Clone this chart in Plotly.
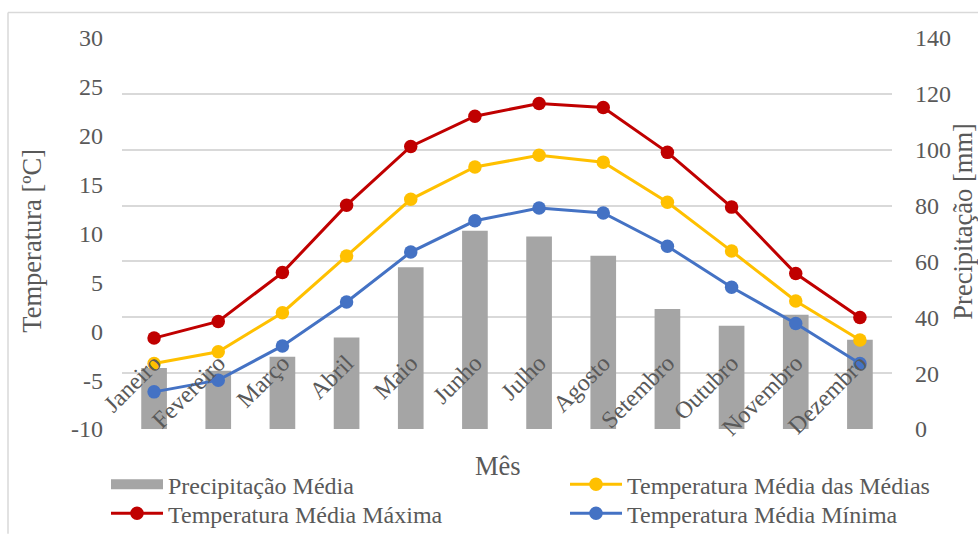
import plotly.graph_objects as go

# Monthly climate normals
meses = ["Janeiro", "Fevereiro", "Março", "Abril", "Maio", "Junho",
         "Julho", "Agosto", "Setembro", "Outubro", "Novembro", "Dezembro"]
precipitacao = [21.8, 20.9, 25.9, 32.8, 57.9, 71.0, 68.9, 62.0, 43.0, 37.0, 40.9, 32.0]
temp_media = [-3.3, -2.1, 1.9, 7.7, 13.5, 16.8, 18.0, 17.3, 13.2, 8.2, 3.1, -0.9]
temp_maxima = [-0.7, 1.0, 6.0, 12.9, 18.9, 22.0, 23.3, 22.9, 18.3, 12.7, 5.9, 1.4]
temp_minima = [-6.2, -5.0, -1.5, 3.0, 8.1, 11.3, 12.6, 12.1, 8.7, 4.5, 0.8, -3.3]

# Temperature axis ticks (plain hyphen for negatives)
temp_ticks = [-10, -5, 0, 5, 10, 15, 20, 25, 30]
temp_tick_text = ["-10", "-5", "0", "5", "10", "15", "20", "25", "30"]

FONT = "Liberation Serif"
TXT = "#595959"
GRID = "#d9d9d9"
BAR = "#a5a5a5"
TICK_SIZE = 24
TITLE_SIZE = 26.5

# plot area in pixels
L, R, T, B = 122, 892, 38.4, 429.3
W, H = R - L, B - T


def px(x):
    return (x - L) / W


def py(y):
    return (B - y) / H


fig = go.Figure()

# Precipitation bars on the primary (right-hand) axis so the lines sit on top
fig.add_trace(go.Bar(
    x=meses, y=precipitacao, name="Precipitação Média",
    marker=dict(color=BAR, line=dict(width=0)),
    width=0.4, yaxis="y", xaxis="x", showlegend=False,
))
# wide rectangular key for the bar series
fig.add_trace(go.Scatter(
    x=[None], y=[None], name="Precipitação Média", mode="lines",
    line=dict(color=BAR, width=12), yaxis="y", xaxis="x", legend="legend",
    hoverinfo="skip",
))


def linha(valores, nome, cor, leg):
    return go.Scatter(
        x=meses, y=valores, name=nome, mode="lines+markers",
        line=dict(color=cor, width=3),
        marker=dict(color=cor, size=13.5),
        yaxis="y2", xaxis="x", legend=leg,
    )


fig.add_trace(linha(temp_media, "Temperatura Média das Médias", "#ffc000", "legend2"))
fig.add_trace(linha(temp_maxima, "Temperatura Média Máxima", "#c00000", "legend3"))
fig.add_trace(linha(temp_minima, "Temperatura Média Mínima", "#4472c4", "legend4"))

legend_style = dict(
    orientation="v", yanchor="middle", xanchor="left",
    font=dict(family=FONT, size=TICK_SIZE, color=TXT),
    bgcolor="rgba(0,0,0,0)", tracegroupgap=0, itemwidth=52,
)
col1, col2 = 106, 565
row1, row2 = 485, 514

fig.update_layout(
    width=978, height=534,
    margin=dict(l=L, r=978 - R, t=T, b=534 - B, autoexpand=False),
    paper_bgcolor="white", plot_bgcolor="white",
    font=dict(family=FONT, color=TXT, size=TICK_SIZE),
    showlegend=True,
    xaxis=dict(
        anchor="free", position=0.25,
        tickangle=-45, showgrid=False, showline=False, ticks="",
        tickfont=dict(family=FONT, size=TICK_SIZE, color=TXT),
        ticklabelstandoff=12,
        range=[-0.5, 11.5], fixedrange=True,
    ),
    yaxis=dict(
        side="right", range=[0, 140], dtick=20,
        showgrid=True, gridcolor=GRID, gridwidth=1.5,
        zeroline=False, showline=False, ticks="",
        tickfont=dict(family=FONT, size=TICK_SIZE, color=TXT), ticklabelstandoff=22,
    ),
    yaxis2=dict(
        side="left", overlaying="y", anchor="x", range=[-10, 30],
        tickvals=temp_ticks, ticktext=temp_tick_text,
        showgrid=False, zeroline=False, showline=False, ticks="",
        tickfont=dict(family=FONT, size=TICK_SIZE, color=TXT), ticklabelstandoff=18,
    ),
    legend=dict(x=px(col1), y=py(row1), **legend_style),
    legend2=dict(x=px(col2), y=py(row1), **legend_style),
    legend3=dict(x=px(col1), y=py(row2), **legend_style),
    legend4=dict(x=px(col2), y=py(row2), **legend_style),
    annotations=[
        dict(text="Mês", xref="paper", yref="paper", x=px(498), y=py(466),
             xanchor="center", yanchor="middle", showarrow=False,
             font=dict(family=FONT, size=TITLE_SIZE, color=TXT)),
        dict(text="Temperatura [ºC]", xref="paper", yref="paper", x=px(32), y=py(241),
             xanchor="center", yanchor="middle", showarrow=False, textangle=-90,
             font=dict(family=FONT, size=TITLE_SIZE, color=TXT)),
        dict(text="Precipitação [mm]", xref="paper", yref="paper", x=px(963), y=py(222),
             xanchor="center", yanchor="middle", showarrow=False, textangle=-90,
             font=dict(family=FONT, size=TITLE_SIZE, color=TXT)),
    ],
    shapes=[
        dict(type="line", xref="paper", yref="paper",
             x0=px(8), x1=px(8), y0=py(534), y1=py(13),
             line=dict(color=GRID, width=1.5)),
        dict(type="line", xref="paper", yref="paper",
             x0=px(8), x1=px(978), y0=py(13), y1=py(13),
             line=dict(color=GRID, width=1.5)),
    ],
)

fig.write_html("out.html")
